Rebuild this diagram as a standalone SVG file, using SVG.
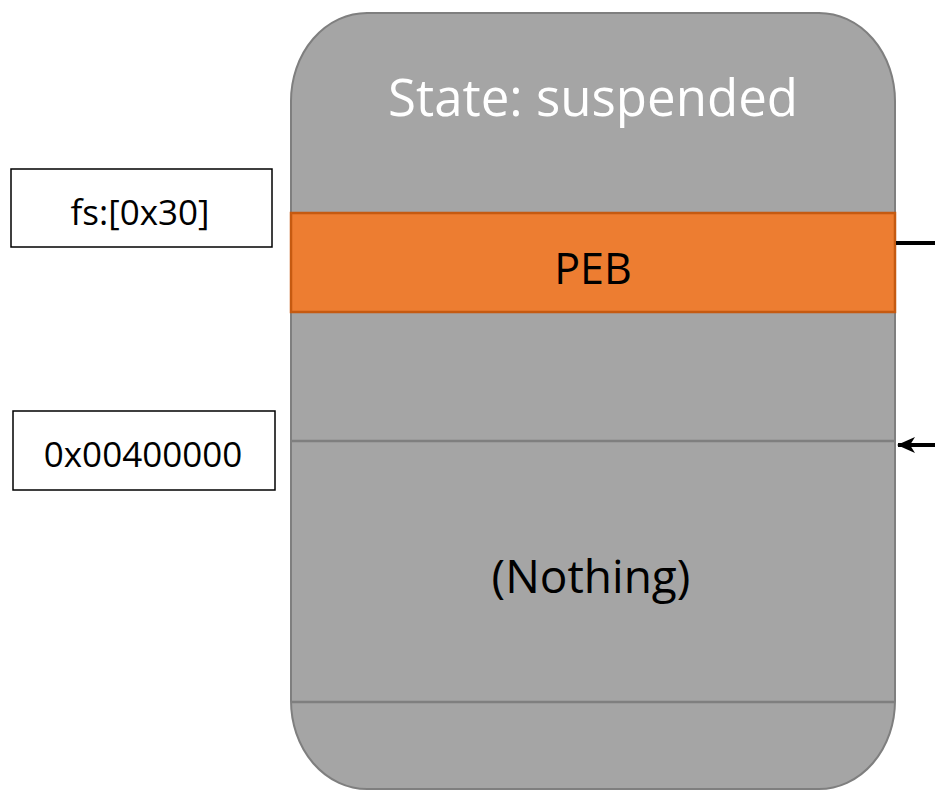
<svg xmlns="http://www.w3.org/2000/svg" width="935" height="790" viewBox="0 0 935 790">
  <style>
    .body { fill: #a5a5a5; stroke: #7f7f7f; stroke-width: 2; }
    .sep { stroke: #7f7f7f; stroke-width: 2.5; fill: none; }
    .peb { fill: #ed7d31; stroke: #c55a11; stroke-width: 2.5; }
    .label { fill: #ffffff; stroke: #000000; stroke-width: 1.5; }
    .t { font-family: "Open Sans", "Liberation Sans", sans-serif; text-anchor: middle; }
    .conn { stroke: #000000; stroke-width: 4; fill: none; }
  </style>
  <defs>
    <marker id="arrow" markerWidth="18" markerHeight="16" refX="17" refY="8" orient="auto" markerUnits="userSpaceOnUse">
      <path d="M0,0 L18,8 L0,16 L5,8 Z" fill="#000000"/>
    </marker>
  </defs>

  <g id="process">
    <rect class="body" x="291" y="13" width="604" height="776" rx="76" ry="88"/>
    <text class="t" x="593" y="116" font-size="51" fill="#ffffff">State: suspended</text>
  </g>

  <g id="peb">
    <rect class="peb" x="291" y="213" width="604" height="99"/>
    <text class="t" x="593" y="284" font-size="43" fill="#000000">PEB</text>
  </g>

  <g id="image-base">
    <line class="sep" x1="291" y1="441" x2="895" y2="441"/>
  </g>

  <g id="nothing">
    <text class="t" x="591" y="593" font-size="46" fill="#000000">(Nothing)</text>
    <line class="sep" x1="291" y1="702" x2="895" y2="702"/>
  </g>

  <g id="fs-label">
    <rect class="label" x="11" y="169" width="261" height="78"/>
    <text class="t" x="140" y="225" font-size="35" fill="#000000">fs:[0x30]</text>
  </g>

  <g id="addr-label">
    <rect class="label" x="13" y="411" width="262" height="79"/>
    <text class="t" x="143" y="467" font-size="35" fill="#000000">0x00400000</text>
  </g>

  <g id="connectors">
    <line class="conn" x1="896" y1="243" x2="935" y2="243"/>
    <line class="conn" x1="935" y1="445" x2="898" y2="445" marker-end="url(#arrow)"/>
  </g>
</svg>
